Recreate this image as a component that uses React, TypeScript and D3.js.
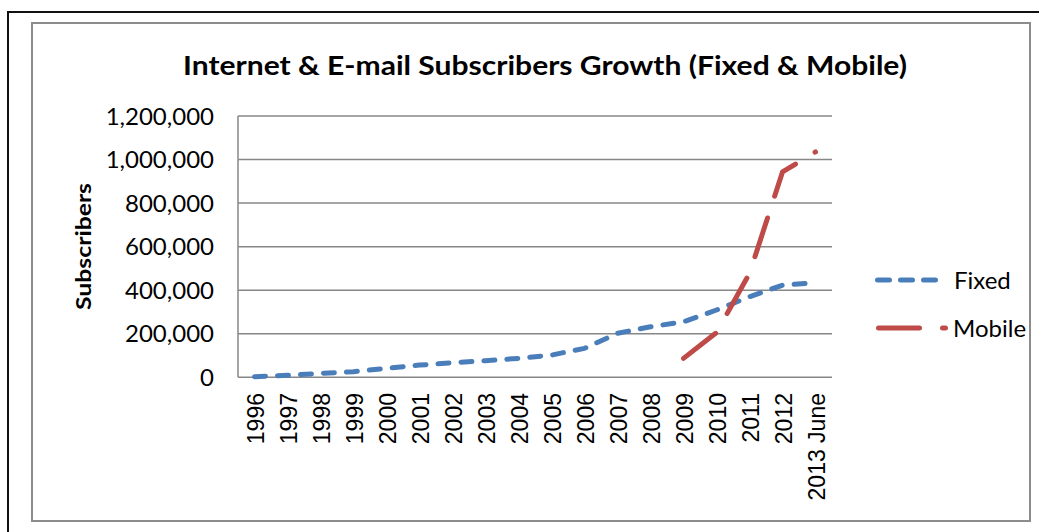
import React, { useEffect, useRef } from "react";
import * as d3 from "d3";

const categories = ["1996", "1997", "1998", "1999", "2000", "2001", "2002", "2003", "2004", "2005", "2006", "2007", "2008", "2009", "2010", "2011", "2012", "2013 June"];
const fixedValues = [3000, 9000, 18000, 26000, 41000, 56000, 67000, 76000, 87000, 102000, 133000, 202000, 232000, 255000, 309000, 370000, 423000, 434000];
const mobileCategories = ["2009", "2010", "2011", "2012", "2013 June"];
const mobileValues = [87000, 205000, 477000, 943000, 1035000];
const yTicks = [0, 200000, 400000, 600000, 800000, 1000000, 1200000];

export default function App() {
  const svgRef = useRef<SVGSVGElement>(null);

  useEffect(() => {
    const width = 1039;
    const height = 532;
    const font = "Lato, 'Open Sans', sans-serif";

    const svg = d3.select(svgRef.current);
    svg.selectAll("*").remove();
    svg.attr("width", width).attr("height", height);

    svg.append("rect").attr("width", width).attr("height", height).attr("fill", "#fff");

    // outer and inner frames
    svg.append("rect")
      .attr("x", 8).attr("y", 12).attr("width", 1100).attr("height", 600)
      .attr("fill", "none").attr("stroke", "#111").attr("stroke-width", 2);
    svg.append("rect")
      .attr("x", 32).attr("y", 23).attr("width", 998).attr("height", 498)
      .attr("fill", "none").attr("stroke", "#8c8c8c").attr("stroke-width", 2);

    const plot = { left: 238, right: 832, top: 116, bottom: 377.3 };

    const xScale = d3.scaleBand<string>()
      .domain(categories)
      .range([plot.left, plot.right]);

    const yScale = d3.scaleLinear()
      .domain([0, 1200000])
      .range([plot.bottom, plot.top]);

    const cx = (c: string) => (xScale(c) ?? 0) + xScale.bandwidth() / 2;

    // gridlines
    svg.append("g")
      .selectAll("line")
      .data(yTicks)
      .join("line")
      .attr("x1", plot.left).attr("x2", plot.right)
      .attr("y1", d => yScale(d)).attr("y2", d => yScale(d))
      .attr("stroke", "#878787").attr("stroke-width", 1.5);

    svg.append("line")
      .attr("x1", plot.left).attr("x2", plot.left)
      .attr("y1", plot.top).attr("y2", plot.bottom)
      .attr("stroke", "#878787").attr("stroke-width", 1.5);

    // y tick labels
    svg.append("g")
      .selectAll("text")
      .data(yTicks)
      .join("text")
      .attr("x", 214)
      .attr("y", d => yScale(d))
      .attr("dy", "0.36em")
      .attr("text-anchor", "end")
      .style("font-family", font)
      .style("font-size", "24px")
      .attr("fill", "#000")
      .text(d => d3.format(",")(d));

    // x labels
    svg.append("g")
      .selectAll("text")
      .data(categories)
      .join("text")
      .attr("transform", d => `translate(${cx(d) + 1}, 393) rotate(-90)`)
      .attr("dy", "0.36em")
      .attr("text-anchor", "end")
      .style("font-family", "'Liberation Sans', Arial, sans-serif")
      .style("font-size", "23px")
      .attr("fill", "#000")
      .text(d => d);

    // series
    const line = d3.line<[string, number]>()
      .x(d => cx(d[0]))
      .y(d => yScale(d[1]));

    svg.append("path")
      .datum(categories.map((c, i) => [c, fixedValues[i]] as [string, number]))
      .attr("d", line)
      .attr("fill", "none")
      .attr("stroke", "#4A7EBB")
      .attr("stroke-width", 5)
      .attr("stroke-linecap", "round")
      .attr("stroke-linejoin", "round")
      .attr("stroke-dasharray", "11 12");

    const mobilePath = svg.append("path")
      .datum(mobileCategories.map((c, i) => [c, mobileValues[i]] as [string, number]))
      .attr("d", line)
      .attr("fill", "none")
      .attr("stroke", "#BE4B48")
      .attr("stroke-width", 5)
      .attr("stroke-linecap", "round")
      .attr("stroke-linejoin", "round");

    // fit the long dash pattern so the line ends on a dot, like the original
    const len = (mobilePath.node() as SVGPathElement).getTotalLength();
    const n = Math.max(1, Math.round(len / 61));
    const period = (len - 0.5) / n;
    mobilePath.attr("stroke-dasharray", `${period * 0.64} ${period * 0.36}`);

    // title
    svg.append("text")
      .attr("x", 545).attr("y", 75)
      .attr("text-anchor", "middle")
      .attr("textLength", 724)
      .attr("lengthAdjust", "spacingAndGlyphs")
      .style("font-family", font)
      .style("font-size", "26px")
      .style("font-weight", "bold")
      .text("Internet & E-mail Subscribers Growth (Fixed & Mobile)");

    svg.append("text")
      .attr("transform", "translate(83, 246.5) rotate(-90)")
      .attr("dy", "0.36em")
      .attr("text-anchor", "middle")
      .attr("textLength", 127)
      .attr("lengthAdjust", "spacingAndGlyphs")
      .style("font-family", font)
      .style("font-size", "21px")
      .style("font-weight", "bold")
      .text("Subscribers");

    // legend
    const legend = svg.append("g");
    legend.append("line")
      .attr("x1", 877.5).attr("x2", 935.5).attr("y1", 280).attr("y2", 280)
      .attr("stroke", "#4A7EBB").attr("stroke-width", 5)
      .attr("stroke-linecap", "round").attr("stroke-dasharray", "12 11");
    legend.append("text")
      .attr("x", 954).attr("y", 280).attr("dy", "0.36em")
      .style("font-family", font).style("font-size", "24px")
      .text("Fixed");
    legend.append("line")
      .attr("x1", 878.5).attr("x2", 945.5).attr("y1", 328).attr("y2", 328)
      .attr("stroke", "#BE4B48").attr("stroke-width", 5)
      .attr("stroke-linecap", "round").attr("stroke-dasharray", "41 23");
    legend.append("text")
      .attr("x", 953).attr("y", 328).attr("dy", "0.36em")
      .style("font-family", font).style("font-size", "24px")
      .text("Mobile");
  }, []);

  return (
    <div style={{ position: "absolute", left: 0, top: 0 }}>
      <svg ref={svgRef} style={{ display: "block" }} />
    </div>
  );
}
